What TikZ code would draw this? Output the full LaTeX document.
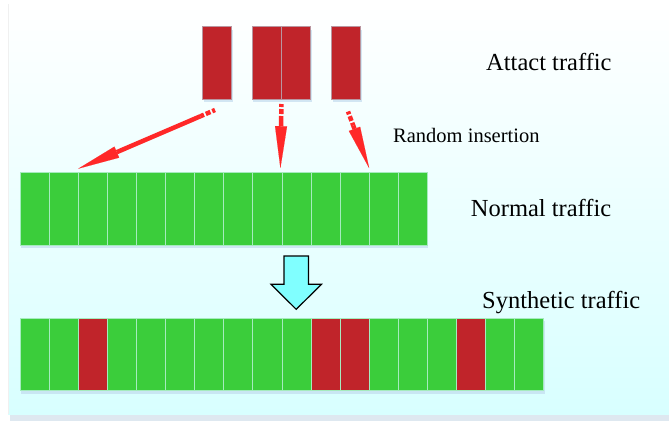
\documentclass[tikz,border=0pt]{standalone}
\usepackage{fontspec}
\setmainfont{Liberation Serif}
\usetikzlibrary{arrows.meta, positioning, calc, shadows}

\definecolor{cellgreen}{RGB}{59,205,59}
\definecolor{cellred}{RGB}{192,36,42}
\definecolor{cellline}{RGB}{165,235,190}
\definecolor{boxline}{RGB}{185,150,160}
\definecolor{arrowred}{RGB}{255,40,40}
\definecolor{bgcyan}{RGB}{216,255,255}
\definecolor{bgshadow}{RGB}{222,232,240}
\definecolor{flowcyan}{RGB}{128,255,255}
\definecolor{shadowblue}{RGB}{195,220,238}

\tikzset{
  cell/.style={draw=cellline, line width=0.8pt, minimum width=29.1pt,
    minimum height=72.3pt, inner sep=0pt, outer sep=0pt, anchor=north west,
    drop shadow={shadow xshift=1pt, shadow yshift=-3pt, fill=shadowblue, opacity=0.7}},
  normalcell/.style={fill=cellgreen},
  attackcell/.style={fill=cellred},
  insert tail/.style={draw=arrowred, line width=4.5pt,
    dash pattern=on 3pt off 2pt on 5pt off 2pt on 30pt},
  insert head/.style={draw=arrowred, line width=4.5pt,
    -{Triangle[length=42pt, width=12pt, line width=0.1pt]}},
  label text/.style={anchor=base west, inner sep=0pt, font=\fontsize{24.5}{28}\selectfont},
}

\begin{document}
\begin{tikzpicture}[x=1pt, y=-1pt]
    \useasboundingbox (0,0) rectangle (669,421);
    % fundo
    \fill[white] (0,0) rectangle (669,421);
    \fill[bgshadow] (10,414) rectangle (669,421);
    \fill[top color=white, bottom color=bgcyan] (8,4) rectangle (669,414);
    \draw[gray!12] (8,4) -- (8,414);

    % pacotes de ataque
    \node[cell, attackcell, draw=boxline] (a1) at (202.7,26.7) {};
    \node[cell, attackcell, draw=boxline] (a2) at (252.3,26.7) {};
    \node[cell, attackcell, draw=boxline, right=0pt of a2] (a3) {};
    \node[cell, attackcell, draw=boxline] (a4) at (331.7,26.7) {};

    % trafego normal
    \foreach \i in {1,...,14}
        \node[cell, normalcell] (n\i) at ({20+(\i-1)*29.1}, 172.7) {};

    % trafego sintetico
    \foreach \k [count=\i] in {normalcell,normalcell,attackcell,normalcell,normalcell,normalcell,
        normalcell,normalcell,normalcell,normalcell,attackcell,attackcell,normalcell,normalcell,
        normalcell,attackcell,normalcell,normalcell}
        \node[cell, \k] (s\i) at ({20+(\i-1)*29.1}, 318.3) {};

    % insercao aleatoria
    \coordinate (t1) at (215,110);
    \coordinate (t2) at ($(a2.south east)+(0,5)$);
    \coordinate (t3) at (348,111.5);
    \coordinate (h1) at ($(n3.north west)+(0,-4)$);
    \coordinate (h2) at ($(n10.north west)+(-1.5,-4.5)$);
    \coordinate (h3) at ($(n13.north west)+(0,-4.5)$);
    \draw[insert tail] (t1) -- ($(t1)!16pt!(h1)$);
    \draw[insert head] ($(t1)!16pt!(h1)$) -- (h1);
    \draw[insert tail] (t2) -- ($(t2)!21pt!(h2)$);
    \draw[insert head] ($(t2)!21pt!(h2)$) -- (h2);
    \draw[insert tail] (t3) -- ($(t3)!15pt!(h3)$);
    \draw[insert head] ($(t3)!15pt!(h3)$) -- (h3);

    % seta de juncao
    \draw[fill=flowcyan, line width=1.2pt, line join=miter]
        (284,256) -- (308.5,256) -- (308.5,284.3) -- (321.5,284.3) -- (296.2,309.3)
        -- (271,284.3) -- (284,284.3) -- cycle;

    % rotulos
    \node[label text] (attack) at (486,70.7) {Attact traffic};
    \node[label text, font=\fontsize{20.5}{24}\selectfont] (insert) at (393,142.7) {Random insertion};
    \node[label text] (normal) at (470.7,216) {Normal traffic};
    \node[label text] (synth) at (482,308.3) {Synthetic traffic};
\end{tikzpicture}
\end{document}
